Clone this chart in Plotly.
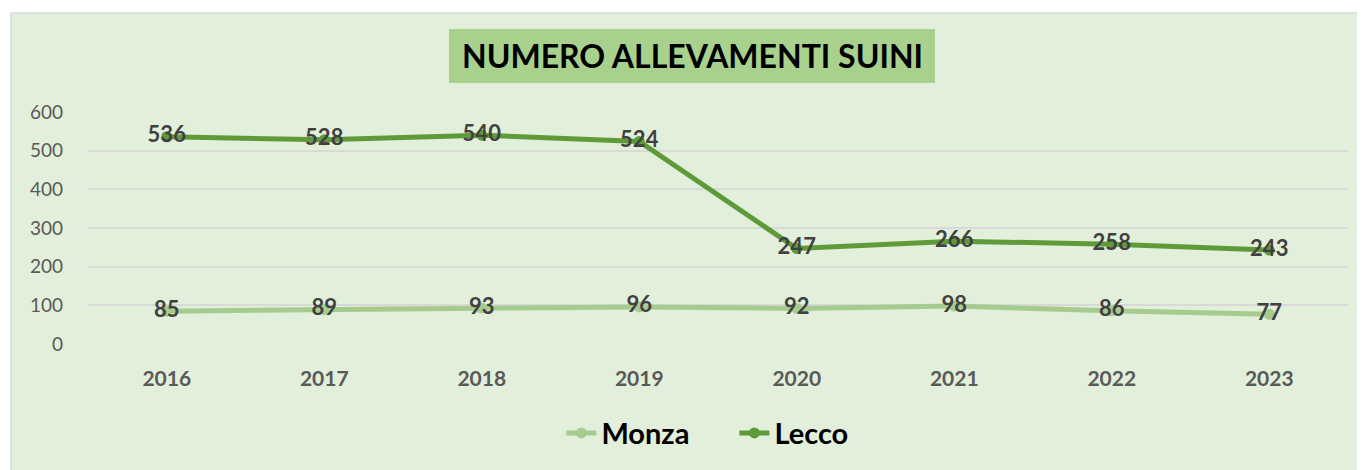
import plotly.graph_objects as go

# data
years = ["2016", "2017", "2018", "2019", "2020", "2021", "2022", "2023"]
monza = [85, 89, 93, 96, 92, 98, 86, 77]
lecco = [536, 528, 540, 524, 247, 266, 258, 243]

BG = "#E2EFDA"
TITLE_BG = "#A9D18E"
COLOR_MONZA = "#A6CB8F"
COLOR_LECCO = "#5E9A3A"
LABEL = "#404040"
FONT = "Lato, Open Sans, sans-serif"

fig = go.Figure()

for name, vals, color in [("Monza", monza, COLOR_MONZA), ("Lecco", lecco, COLOR_LECCO)]:
    fig.add_trace(go.Scatter(
        x=years, y=vals, name=name,
        mode="lines+markers+text",
        line=dict(color=color, width=5),
        marker=dict(size=11, color=color),
        text=[str(v) for v in vals],
        textposition="middle center",
        textfont=dict(size=22, color=LABEL, family=FONT, weight="bold"),
    ))

# chart area background + border, and the title box
# (page body has an 8px margin, so margins are shifted by 8)
fig.add_shape(type="rect", xref="paper", yref="paper", layer="below",
              x0=-0.0611, x1=1.03, y0=-0.6, y1=1.4267,
              fillcolor=BG, line=dict(color="#D9D9D9", width=1.5))
fig.add_shape(type="rect", xref="paper", yref="paper", layer="below",
              x0=0.2865, x1=0.6722, y0=1.125, y1=1.3578,
              fillcolor=TITLE_BG, line_width=0)
fig.add_annotation(text="<b>NUMERO ALLEVAMENTI SUINI</b>", xref="paper", yref="paper",
                   x=0.4794, y=1.2414, xanchor="center", yanchor="middle",
                   showarrow=False, font=dict(size=32, color="#000000", family=FONT))

fig.update_layout(
    width=1365, height=470,
    margin=dict(l=80, r=25, t=104, b=134),
    paper_bgcolor="white",
    plot_bgcolor="rgba(0,0,0,0)",
    font=dict(family=FONT, color="#595959"),
    xaxis=dict(
        range=[-0.5, 7.5], showgrid=False, zeroline=False, showline=False,
        ticks="", ticklabelstandoff=20,
        tickfont=dict(size=21, color="#595959", weight="bold"),
    ),
    yaxis=dict(
        range=[0, 600], dtick=100, gridcolor="#D9D9D9", gridwidth=2,
        zeroline=False, showline=False, ticks="", ticklabelstandoff=24,
        tickfont=dict(size=19, color="#595959"),
    ),
    legend=dict(
        orientation="h", xanchor="center", x=0.513,
        yanchor="middle", y=-0.384,
        entrywidth=128, entrywidthmode="pixels",
        bgcolor="rgba(0,0,0,0)",
        font=dict(size=29, color="#000000", weight="bold"),
    ),
    showlegend=True,
)

fig.write_html("out.html")
